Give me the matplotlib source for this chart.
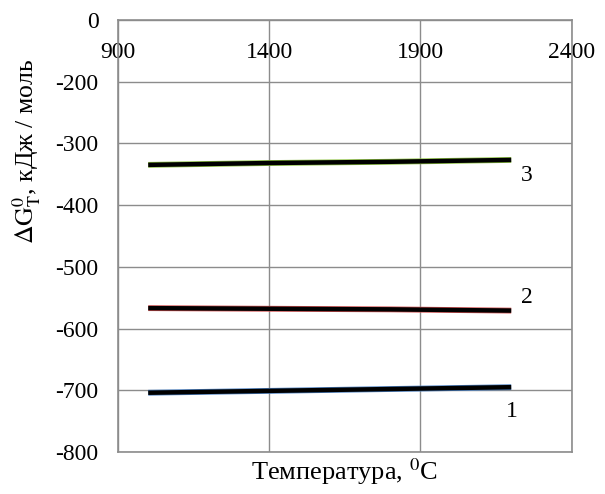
import matplotlib
matplotlib.use('Agg')
import matplotlib.pyplot as plt

plt.rcParams['font.family'] = ['Liberation Serif', 'DejaVu Serif']
plt.rcParams['mathtext.fontset'] = 'stix'

# temperatures, degrees C
temps = [1000, 1400, 1800, 2200]
# Gibbs energy, kJ/mol, for the three reactions
dg1 = [-704, -701, -698, -695]
dg2 = [-567, -568, -569, -571]
dg3 = [-335, -332, -330, -327]

curve_labels = ['1', '2', '3']
label_x = [2202, 2252, 2252]
label_y = [-735, -549, -353]
under_colors = ['#4a7fc0', '#d05050', '#8cc040']

x_ticks = [900, 1400, 1900, 2400]
y_ticks = [-800, -700, -600, -500, -400, -300, -200, -100]
y_tick_labels = ['-800', '-700', '-600', '-500', '-400', '-300', '-200', '0']

fig = plt.figure(figsize=(6.05, 4.94), dpi=100)
ax = fig.add_axes([0.195, 0.085, 0.75, 0.875])

for vals, col in zip([dg1, dg2, dg3], under_colors):
    ax.plot(temps, vals, color=col, linewidth=4.2, solid_capstyle='butt', zorder=3)
    ax.plot(temps, vals, color='black', linewidth=3.2, solid_capstyle='butt', zorder=4)

for lab, lx, ly in zip(curve_labels, label_x, label_y):
    ax.text(lx, ly, lab, fontsize=17, ha='center', va='center', zorder=5)

ax.set_xlim(900, 2400)
ax.set_ylim(-800, -100)
ax.set_xticks(x_ticks)
ax.set_yticks(y_ticks)
ax.set_yticklabels(y_tick_labels)
ax.xaxis.tick_top()
ax.tick_params(axis='x', length=0, pad=-31, labelsize=17)
ax.tick_params(axis='y', length=0, pad=14, labelsize=17)
ax.grid(True, color='#8c8c8c', linewidth=1)
ax.set_axisbelow(True)
for s in ax.spines.values():
    s.set_color('#8c8c8c')
    s.set_linewidth(1.2)

ax.set_xlabel(r'Температура, $^0$C', fontsize=19, labelpad=3)
ax.xaxis.set_label_position('bottom')
ax.set_ylabel(r'$\mathrm{\Delta G^0_T}$, кДж / моль', fontsize=18.5)
ax.yaxis.set_label_coords(-0.165, 0.695)

fig.savefig('out.png', dpi=100)
